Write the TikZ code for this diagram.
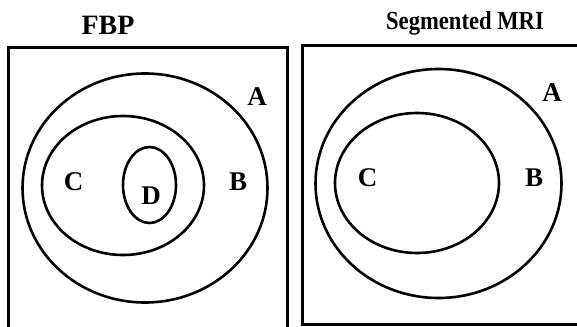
\documentclass[tikz,border=0pt]{standalone}
\usepackage{fontspec}
\setmainfont{Liberation Serif}
\usetikzlibrary{shapes.geometric}
\begin{document}
\begin{tikzpicture}[x=1pt,y=-1pt,
  region/.style={draw,ellipse,line width=2.6pt,inner sep=0pt},
  frame/.style={line width=3pt},
  lbl/.style={font=\fontsize{27}{27}\selectfont\bfseries,inner sep=0pt},
  ttl/.style={font=\fontsize{28}{28}\selectfont\bfseries,inner sep=0pt}]
\useasboundingbox (0,0) rectangle (577,326);
\clip (0,0) rectangle (577,326);
% frames
\coordinate (l1) at (8,330); \coordinate (l2) at (8,48); \coordinate (l3) at (287,48); \coordinate (l4) at (287,330);
\draw[frame] (l1) -- (l2) -- (l3) -- (l4);
\coordinate (r1) at (580,46); \coordinate (r2) at (302,46); \coordinate (r3) at (302,324); \coordinate (r4) at (580,324);
\draw[frame] (r1) -- (r2) -- (r3) -- (r4);
% titles
\node[ttl] (t1) at (108,25) {FBP};
\node[ttl,font=\fontsize{26}{26}\selectfont\bfseries,xscale=0.87,transform shape] (t2) at (465,23) {Segmented MRI};
% left
\node[region,minimum width=245pt,minimum height=229pt] (LA) at (145,188) {};
\node[region,minimum width=162pt,minimum height=139pt] (LC) at (123,185.5) {};
\node[region,minimum width=53pt,minimum height=76pt] (LD) at (149.5,185) {};
\node[lbl] (la) at (257,97) {A};
\node[lbl] (lb) at (238,182) {B};
\node[lbl] (lc) at (73.5,182) {C};
\node[lbl] (ld) at (151,196) {D};
% right
\node[region,minimum width=246pt,minimum height=229pt] (RA) at (438.5,183.5) {};
\node[region,minimum width=164pt,minimum height=140pt] (RC) at (417,183) {};
\node[lbl] (ra) at (552,93) {A};
\node[lbl] (rb) at (534,178) {B};
\node[lbl] (rc) at (367.5,178) {C};
\end{tikzpicture}
\end{document}
